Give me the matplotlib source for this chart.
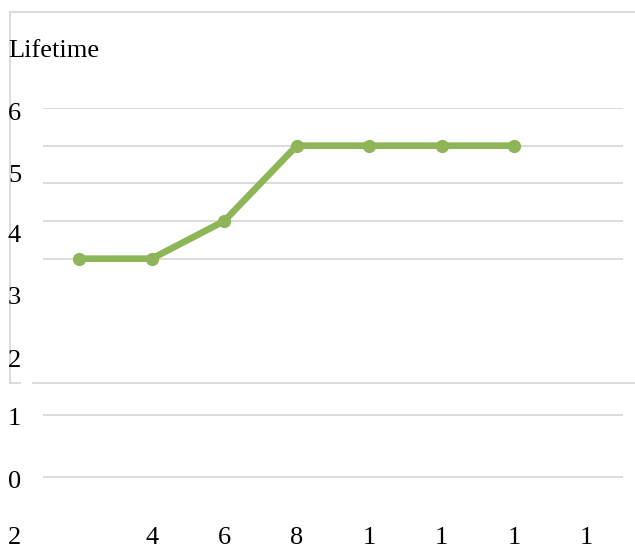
import matplotlib
matplotlib.use("Agg")
from matplotlib import pyplot as plt
from matplotlib.lines import Line2D

W, H = 635, 551

# series
x_vals = [2, 4, 6, 8, 10, 12, 14]
lifetime = [2, 2, 3, 5, 5, 5, 5]

# axis text
x_ticks = [4, 6, 8, 10, 12, 14, 16]
x_labels = ["4", "6", "8", "1", "1", "1", "1"]
y_ticks = [5.92, 4.27, 2.66, 1.01, -0.64, -2.2, -3.85, -5.35]
y_labels = ["6", "5", "4", "3", "2", "1", "0", "2"]
grid_levels = [6, 5, 4, 3, 2, -2.15, -3.8]

green = "#8fb559"
grid = "#d9d9d9"


def px(x, y):
    return x / W, 1 - y / H


plt.rcParams['font.family'] = ['Liberation Serif', 'DejaVu Serif']

fig = plt.figure(figsize=(W / 100, H / 100), dpi=100)
fig.patch.set_facecolor("white")

left, top = px(43, 108)
right, bottom = px(623, 538)
ax = fig.add_axes([left, bottom, right - left, top - bottom])
ax.patch.set_visible(False)
ax.set_xlim(1, 17)
ax.set_ylim(-5.415, 6)
for s in ax.spines.values():
    s.set_visible(False)

for g in grid_levels:
    ax.axhline(g, color=grid, lw=1.3, zorder=1)

ax.plot(x_vals, lifetime, color=green, lw=4.8, marker="o", ms=8.5,
        solid_capstyle="round", zorder=3)

ax.set_xticks(x_ticks, x_labels, fontsize=19)
ax.set_yticks(y_ticks, y_labels, fontsize=19)
ax.tick_params(axis="x", length=0, pad=0)
ax.tick_params(axis="y", length=0, pad=25.2)
for t in ax.get_xticklabels():
    t.set_verticalalignment("center")
for t in ax.get_yticklabels():
    t.set_horizontalalignment("left")


# outer chart frame
def frame(x0, y0, x1, y1):
    a, b = px(x0, y0)
    c, d = px(x1, y1)
    fig.add_artist(Line2D([a, c], [b, d], color=grid, lw=1.3,
                          transform=fig.transFigure, zorder=0))


frame(10, 12, 635, 12)
frame(10, 12, 10, 383)
frame(10, 383, 20, 383)
frame(33, 383, 635, 383)

fig.text(8 / W, 1 - 57 / H, "Lifetime", fontsize=19, va="baseline", ha="left")

fig.savefig("out.png", dpi=100)
